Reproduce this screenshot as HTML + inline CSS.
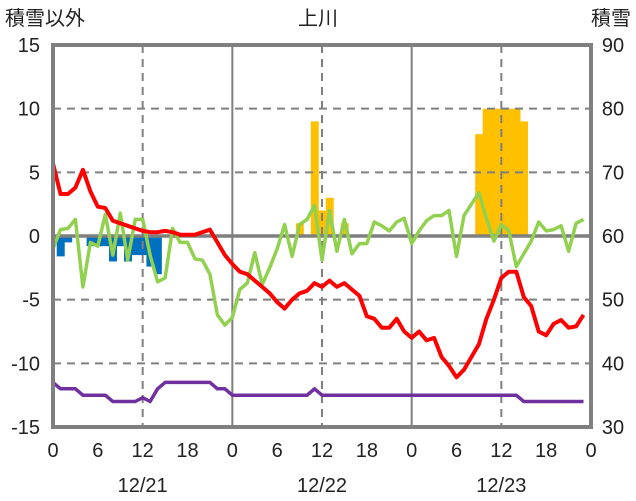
<!DOCTYPE html>
<html><head><meta charset="utf-8"><style>
body{margin:0;background:#fff}
svg{display:block}
text{font-family:"Liberation Sans","Noto Sans CJK JP",sans-serif;font-size:20px;fill:#222}
</style></head><body>
<svg id="s" width="636" height="501" xmlns="http://www.w3.org/2000/svg"></svg>
<script>
const s=document.getElementById('s');
const L=53,R=591,T=45,B=427;
const X=h=>L+h*(R-L)/72, Y=v=>236-v*(B-T)/30;
let o='';
const W=X(1)-L+0.5;
const ob={33:1,35:9,36:2,37:3,39:1,57:8,58:10,59:10,60:10,61:10,62:10,63:9};
for(const h in ob){o+=`<rect x="${X(+h-0.5)}" y="${Y(ob[h])}" width="${W}" height="${Y(0)-Y(ob[h])}" fill="#ffc000"/>`;}
const bb=[-0.5,-1.6,-0.5,0,0,-0.8,-0.8,-0.8,-2.0,-0.8,-2.0,-1.5,-1.5,-2.4,-3.0];
bb.forEach((v,h)=>{if(v){let x0=Math.max(L,X(h-0.5));let x1=X(h+0.5)+0.5;o+=`<rect x="${x0}" y="${Y(0)}" width="${x1-x0}" height="${Y(v)-Y(0)}" fill="#0070c0"/>`;}});
[10,5,-5,-10].forEach(v=>o+=`<line x1="${L}" x2="${R}" y1="${Y(v)}" y2="${Y(v)}" stroke="#7f7f7f" stroke-width="2" stroke-dasharray="8,6"/>`);
[12,36,60].forEach(h=>o+=`<line x1="${X(h)}" x2="${X(h)}" y1="${T}" y2="${B}" stroke="#7f7f7f" stroke-width="2" stroke-dasharray="8,6"/>`);
[24,48].forEach(h=>o+=`<line x1="${X(h)}" x2="${X(h)}" y1="${T}" y2="${B}" stroke="#7f7f7f" stroke-width="2"/>`);
o+=`<line x1="${L}" x2="${R}" y1="${Y(0)}" y2="${Y(0)}" stroke="#7f7f7f" stroke-width="3.5"/>`;
const red=[5.7,3.3,3.3,3.8,5.2,3.5,2.3,2.2,1.2,1,0.8,0.6,0.4,0.3,0.3,0.4,0.3,0.1,0.1,0.1,0.3,0.5,-0.5,-1.5,-2.2,-2.8,-3.0,-3.5,-4.0,-4.5,-5.2,-5.7,-5.0,-4.5,-4.3,-3.7,-4.0,-3.5,-4.0,-3.7,-4.2,-4.7,-6.3,-6.5,-7.2,-7.2,-6.5,-7.5,-8.0,-7.5,-8.2,-8.0,-9.5,-10.2,-11.1,-10.5,-9.5,-8.5,-6.5,-5.0,-3.3,-2.8,-2.8,-4.8,-5.5,-7.5,-7.8,-6.9,-6.6,-7.2,-7.1,-6.2];
const grn=[-1.0,0.5,0.6,1.3,-4.0,-0.5,-0.8,1.7,-1.5,1.8,-1.9,1.3,1.3,-1.5,-3.6,-3.3,0.6,-0.5,-0.5,-1.8,-1.9,-3.0,-6.2,-7.0,-6.4,-4.2,-3.7,-1.3,-3.8,-2.5,-1.0,0.9,-1.6,0.9,1.3,2.4,-1.9,2.0,-1.2,1.3,-1.4,-0.6,-0.6,1.1,0.8,0.4,1.1,1.4,-0.6,0.4,1.2,1.6,1.6,2.0,-1.6,1.6,2.5,3.4,1.4,-0.4,0.9,0.4,-2.4,-1.4,-0.4,1.1,0.4,0.5,0.8,-1.2,1.0,1.3];
const pur=[];for(let h=0;h<72;h++){let v;if(h==0)v=-11.5;else if(h<4)v=-12;else if(h<8)v=-12.5;else if(h<12)v=-13;else if(h==12)v=-12.7;else if(h==13)v=-13;else if(h==14)v=-12;else if(h<22)v=-11.5;else if(h<24)v=-12;else if(h<35)v=-12.5;else if(h==35)v=-12;else if(h<63)v=-12.5;else v=-13;pur.push(v);}
const line=(a,c,w)=>`<polyline fill="none" stroke="${c}" stroke-width="${w}" stroke-linejoin="round" points="${a.map((v,h)=>X(h).toFixed(1)+','+Y(v).toFixed(1)).join(' ')}"/>`;
o+=line(grn,'#92d050',3.5)+line(pur,'#7030a0',3.5)+line(red,'#ff0000',4);
o+=`<rect x="${L}" y="${T}" width="${R-L}" height="${B-T}" fill="none" stroke="#7f7f7f" stroke-width="4"/>`;
[15,10,5,0,-5,-10,-15].forEach(v=>o+=`<text x="40" y="${Y(v)+7}" text-anchor="end">${v}</text>`);
[90,80,70,60,50,40,30].forEach((v,i)=>o+=`<text x="613" y="${Y(15-5*i)+7}" text-anchor="middle">${v}</text>`);
[0,6,12,18,0,6,12,18,0,6,12,18,0].forEach((v,i)=>o+=`<text x="${X(i*6)}" y="457" text-anchor="middle">${v}</text>`);
['12/21','12/22','12/23'].forEach((d,i)=>o+=`<text x="${X(12+24*i)}" y="492" text-anchor="middle">${d}</text>`);
o+=`<text x="5" y="25">積雪以外</text><text x="318" y="25" text-anchor="middle">上川</text><text x="631" y="25" text-anchor="end">積雪</text>`;
s.innerHTML=o;
</script>
</body></html>
